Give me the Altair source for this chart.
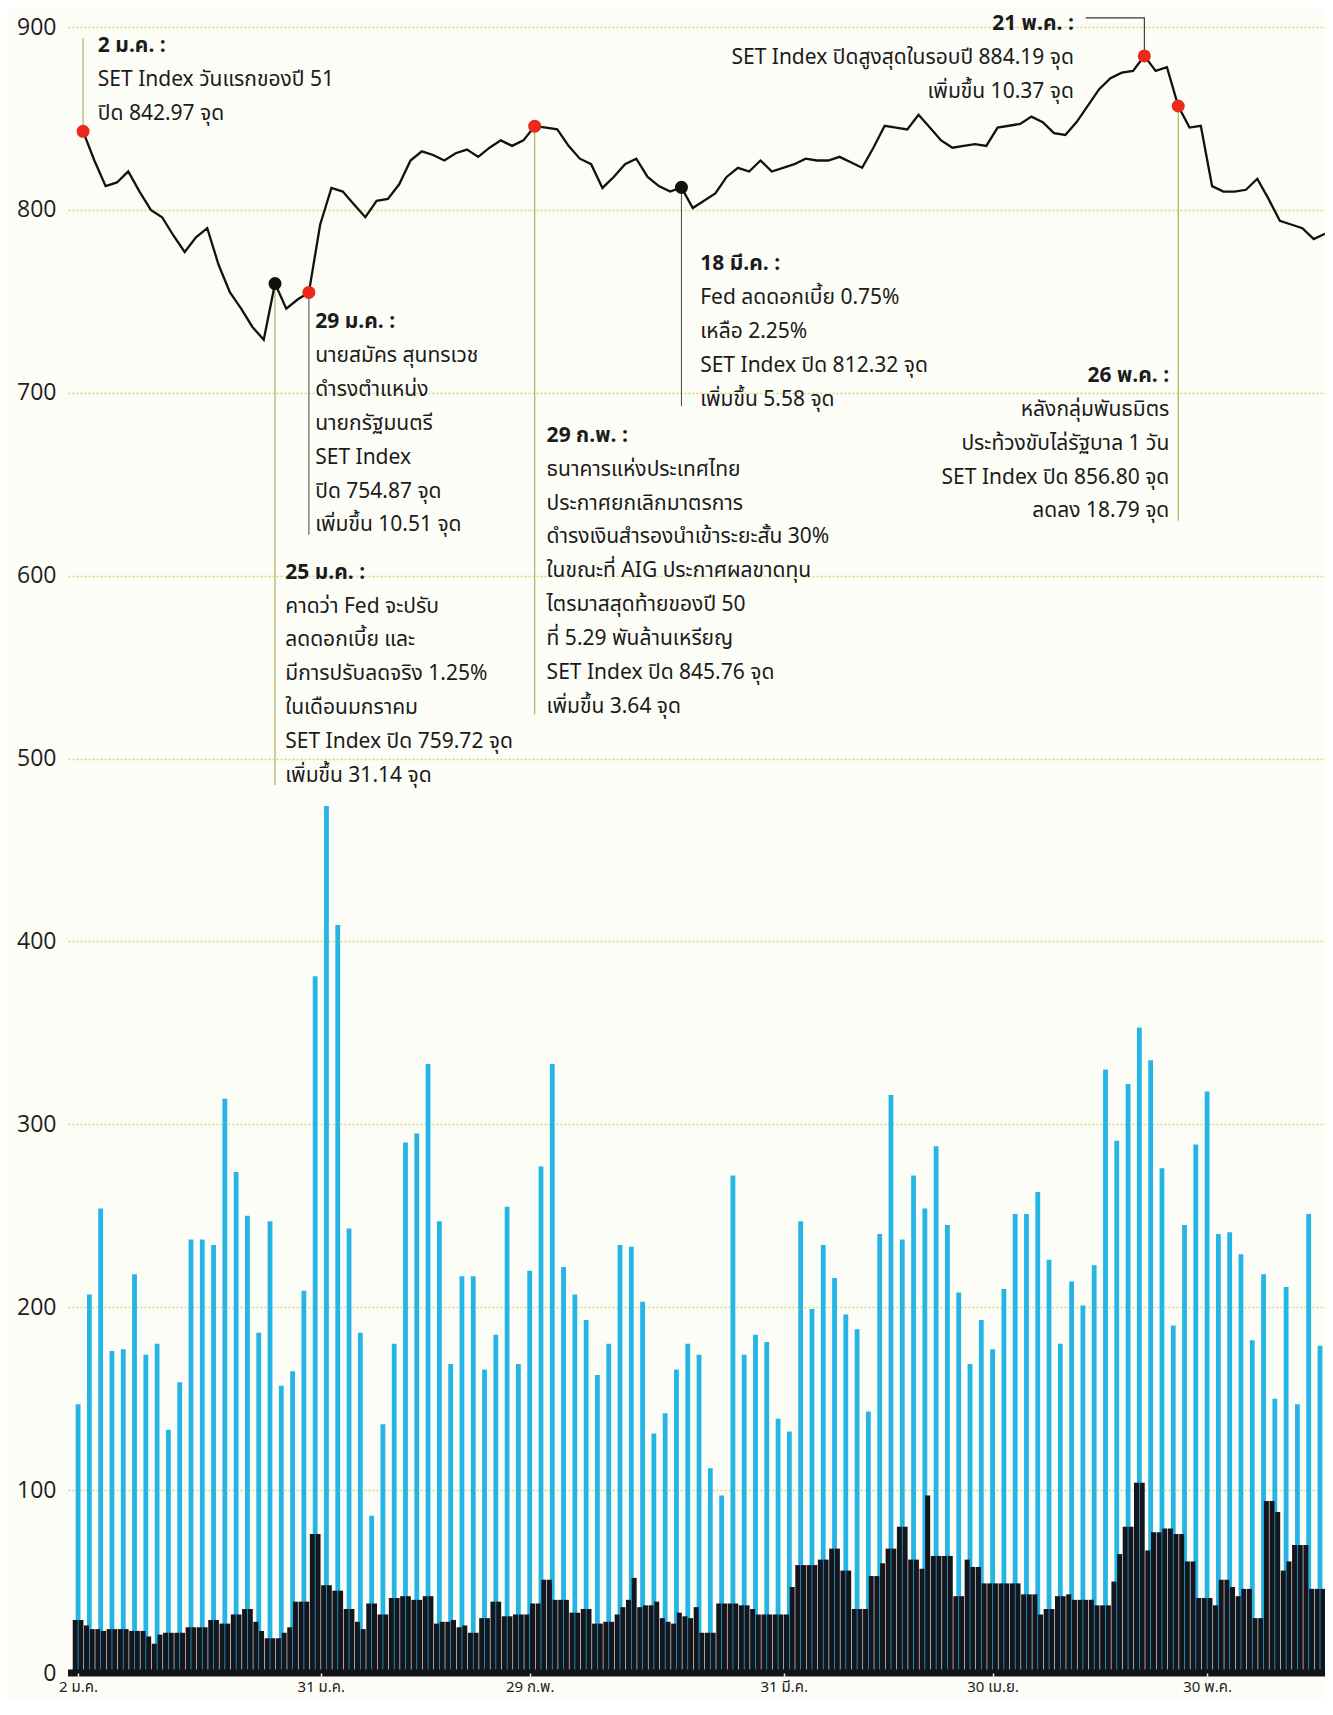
import altair as alt
import pandas as pd

# ---------------- data ----------------
# daily turnover (cyan bars)
turnover = [147, 207, 254, 176, 177, 218, 174, 180, 133, 159,
            237, 237, 234, 314, 274, 250, 186, 247, 157, 165,
            209, 381, 474, 409, 243, 186, 86, 136, 180, 290,
            295, 333, 247, 169, 217, 217, 166, 185, 255, 169,
            220, 277, 333, 222, 207, 193, 163, 180, 234, 233,
            203, 131, 142, 166, 180, 174, 112, 97, 272, 174,
            185, 181, 139, 132, 247, 199, 234, 216, 196, 188,
            143, 240, 316, 237, 272, 254, 288, 245, 208, 169,
            193, 177, 210, 251, 251, 263, 226, 180, 214, 201,
            223, 330, 291, 322, 353, 335, 276, 190, 245, 289,
            318, 240, 241, 229, 182, 218, 150, 211, 147, 251,
            179]

# black bars, left and right half of each day
black_left = [29, 26, 24, 24, 24, 23, 23, 16, 22, 22,
              25, 25, 29, 27, 32, 35, 28, 19, 19, 25,
              39, 76, 48, 45, 35, 28, 38, 32, 41, 42,
              40, 42, 27, 28, 25, 22, 30, 39, 31, 32,
              32, 38, 51, 40, 33, 35, 27, 28, 32, 40,
              36, 37, 30, 27, 31, 36, 22, 38, 38, 37,
              35, 32, 32, 32, 59, 59, 62, 68, 56, 35,
              35, 53, 68, 80, 62, 57, 64, 64, 42, 62,
              58, 49, 49, 49, 43, 43, 35, 42, 43, 40,
              40, 37, 50, 80, 104, 67, 77, 79, 76, 61,
              41, 37, 51, 42, 46, 30, 94, 56, 70, 70,
              46]
black_right = [29, 24, 23, 24, 24, 23, 20, 21, 22, 22,
               25, 25, 29, 27, 32, 35, 23, 19, 22, 39,
               39, 76, 48, 45, 35, 24, 38, 32, 41, 42,
               40, 42, 28, 29, 26, 22, 30, 39, 31, 32,
               38, 51, 40, 40, 33, 35, 27, 28, 36, 52,
               37, 39, 28, 33, 30, 22, 22, 38, 38, 37,
               32, 32, 32, 47, 59, 59, 62, 68, 56, 35,
               53, 60, 68, 80, 62, 97, 64, 64, 42, 58,
               49, 49, 49, 49, 43, 32, 35, 42, 40, 40,
               37, 37, 65, 80, 104, 77, 79, 76, 61, 41,
               41, 51, 47, 46, 30, 94, 88, 61, 70, 46,
               46]

# SET index close
set_index = [842.97, 827, 813, 815, 821, 810, 800, 796, 786, 777,
             785, 790, 770, 755, 746, 736, 729, 759.72, 746, 751,
             754.87, 792, 812, 810, 803, 796, 805, 806, 814, 827,
             832, 830, 827, 831, 833, 829, 834, 838, 835, 838,
             845.76, 845, 844, 835, 828, 825, 812, 818, 825, 828,
             818, 813, 810, 812.32, 801, 805, 809, 818, 823, 821,
             827, 821, 823, 825, 828, 827, 827, 829, 826, 823,
             834, 846, 845, 844, 852, 845, 838, 834, 835, 836,
             835, 845, 846, 847, 851, 848, 842, 841, 848, 857,
             866, 872, 875, 876, 884.19, 876, 878, 856.80, 845, 846,
             813, 810, 810, 811, 817, 806, 794, 792, 790, 784,
             787]

tick_days = [0, 21.5, 40, 62.5, 81, 100]
tick_labels = ["2 ม.ค.", "31 ม.ค.", "29 ก.พ.", "31 มี.ค.", "30 เม.ย.", "30 พ.ค."]

red_days = [0, 20, 40, 94, 97]
black_days = [17, 53]

# annotations: text anchor (day index / index value), leader end, tone
notes = [
    dict(day=0, tx=1.75, ty=889.6, align="left", end=894.0, tone="light",
         title="2 ม.ค. :", body=["SET Index วันแรกของปี 51", "ปิด 842.97 จุด"]),
    dict(day=17, tx=18.35, ty=601.6, align="left", end=485.5, tone="light",
         title="25 ม.ค. :", body=["คาดว่า Fed จะปรับ", "ลดดอกเบี้ย และ", "มีการปรับลดจริง 1.25%",
                                  "ในเดือนมกราคม", "SET Index ปิด 759.72 จุด", "เพิ่มขึ้น 31.14 จุด"]),
    dict(day=20, tx=21.0, ty=738.5, align="left", end=622.4, tone="dark",
         title="29 ม.ค. :", body=["นายสมัคร สุนทรเวช", "ดำรงตำแหน่ง", "นายกรัฐมนตรี",
                                  "SET Index", "ปิด 754.87 จุด", "เพิ่มขึ้น 10.51 จุด"]),
    dict(day=40, tx=41.5, ty=676.4, align="left", end=524.2, tone="light",
         title="29 ก.พ. :", body=["ธนาคารแห่งประเทศไทย", "ประกาศยกเลิกมาตรการ",
                                  "ดำรงเงินสำรองนำเข้าระยะสั้น 30%", "ในขณะที่ AIG ประกาศผลขาดทุน",
                                  "ไตรมาสสุดท้ายของปี 50", "ที่ 5.29 พันล้านเหรียญ",
                                  "SET Index ปิด 845.76 จุด", "เพิ่มขึ้น 3.64 จุด"]),
    dict(day=53, tx=55.1, ty=770.2, align="left", end=692.7, tone="dark",
         title="18 มี.ค. :", body=["Fed ลดดอกเบี้ย 0.75%", "เหลือ 2.25%",
                                   "SET Index ปิด 812.32 จุด", "เพิ่มขึ้น 5.58 จุด"]),
    dict(day=94, tx=88.2, ty=901.5, align="right", end=None, tone="dark",
         title="21 พ.ค. :", body=["SET Index ปิดสูงสุดในรอบปี 884.19 จุด", "เพิ่มขึ้น 10.37 จุด"]),
    dict(day=97, tx=96.65, ty=709.1, align="right", end=630.0, tone="light",
         title="26 พ.ค. :", body=["หลังกลุ่มพันธมิตร", "ประท้วงขับไล่รัฐบาล 1 วัน",
                                  "SET Index ปิด 856.80 จุด", "ลดลง 18.79 จุด"]),
]
LINE_STEP = 18.5  # value units between text lines

# ---------------- tables ----------------
days = list(range(len(turnover)))
df = pd.DataFrame({"day": days, "turnover": turnover, "bl": black_left,
                   "br": black_right, "set": set_index})
red_pts = pd.DataFrame({"day": red_days, "set": [set_index[d] for d in red_days]})
black_pts = pd.DataFrame({"day": black_days, "set": [set_index[d] for d in black_days]})

leader_rows = [dict(day=n["day"], v=set_index[n["day"]], end=n["end"], tone=n["tone"])
               for n in notes if n["end"] is not None]
leaders = pd.DataFrame(leader_rows)

elbow = pd.DataFrame({"day": [88.8, 94, 94], "v": [905.0, 905.0, set_index[94]], "o": [0, 1, 2]})

text_rows = []
for n in notes:
    text_rows.append(dict(x=n["tx"], y=n["ty"], t=n["title"], w="bold", a=n["align"]))
    for k, line in enumerate(n["body"]):
        text_rows.append(dict(x=n["tx"], y=n["ty"] - (k + 1) * LINE_STEP, t=line, w="normal", a=n["align"]))
texts = pd.DataFrame(text_rows)

# ---------------- encodings ----------------
THAI = "Noto Sans Thai, Loma, Garuda, Tlwg Typo, Sarabun, Norasi, DejaVu Sans, sans-serif"
xscale = alt.Scale(domain=[-0.45, 110], nice=False, zero=False)
yscale = alt.Scale(domain=[0, 900], nice=False, zero=True)

label_expr = "[" + ",".join("'%s'" % s for s in tick_labels) + "][indexof([" + \
    ",".join(str(v) for v in tick_days) + "], datum.value)]"

x_axis = alt.Axis(values=tick_days, labelExpr=label_expr, grid=False, domain=False,
                  ticks=True, tickColor="#e9e6d6", tickSize=5, tickWidth=1.5,
                  labelFontSize=15, labelColor="#222222", labelFont=THAI,
                  labelPadding=1, labelFlush=10, zindex=1, title=None)
y_axis = alt.Axis(values=list(range(0, 901, 100)), grid=True, gridColor="#d6d784",
                  gridDash=[2, 2], gridWidth=1.3, ticks=False, domain=False,
                  labelFontSize=23, labelColor="#1e1e1e", labelFont="Open Sans",
                  labelPadding=12, title=None)


def X(field):
    return alt.X(field, type="quantitative", scale=xscale, axis=x_axis)


def Y(field):
    return alt.Y(field, type="quantitative", scale=yscale, axis=y_axis)


base = alt.Chart(df)

cyan = base.mark_bar(color="#24b5e6", size=4.8, clip=True).encode(x=X("day"), y=Y("turnover"))
blk_l = base.mark_bar(color="#15151d", size=5.0, xOffset=-2.85, clip=True).encode(x=X("day"), y=Y("bl"))
blk_r = base.mark_bar(color="#15151d", size=5.0, xOffset=2.85, clip=True).encode(x=X("day"), y=Y("br"))
baseline = alt.Chart(pd.DataFrame({"v": [0]})).mark_rule(color="#141418", strokeWidth=7).encode(y=Y("v"))

leader_light = alt.Chart(leaders).transform_filter(alt.datum.tone == "light").mark_rule(
    strokeWidth=1.1, xOffset=5, color="#a9ab4a").encode(x=X("day"), y=Y("v"), y2="end:Q")
leader_dark = alt.Chart(leaders).transform_filter(alt.datum.tone == "dark").mark_rule(
    strokeWidth=1.1, xOffset=5, color="#55554a").encode(x=X("day"), y=Y("v"), y2="end:Q")
elbow_line = alt.Chart(elbow).mark_line(color="#333333", strokeWidth=1.1, xOffset=5).encode(
    x=X("day"), y=Y("v"), order="o:Q")

line = base.mark_line(color="#111111", strokeWidth=2.3, xOffset=5).encode(x=X("day"), y=Y("set"))
dots_red = alt.Chart(red_pts).mark_circle(size=170, opacity=1, xOffset=5, color="#ec2a1c").encode(
    x=X("day"), y=Y("set"))
dots_black = alt.Chart(black_pts).mark_circle(size=170, opacity=1, xOffset=5, color="#111111").encode(
    x=X("day"), y=Y("set"))


def text_layer(weight, align):
    return alt.Chart(texts).transform_filter(
        (alt.datum.w == weight) & (alt.datum.a == align)
    ).mark_text(align=align, baseline="middle", font=THAI, fontSize=21,
                fontWeight=weight, color="#1b1b1b").encode(
        x=X("x"), y=Y("y"), text="t:N",
    )


chart = alt.layer(
    cyan, blk_l, blk_r, baseline, leader_light, leader_dark, elbow_line, line,
    dots_red, dots_black,
    text_layer("bold", "left"), text_layer("normal", "left"),
    text_layer("bold", "right"), text_layer("normal", "right"),
).properties(
    width=1257, height=1646,
    autosize=alt.AutoSizeParams(type="none"),
    padding={"left": 60, "top": 19, "right": 0, "bottom": 28},
    background="#fdfdf7",
).configure_view(stroke=None)

chart.save("out.html", embed_options={"renderer": "svg", "actions": False})
